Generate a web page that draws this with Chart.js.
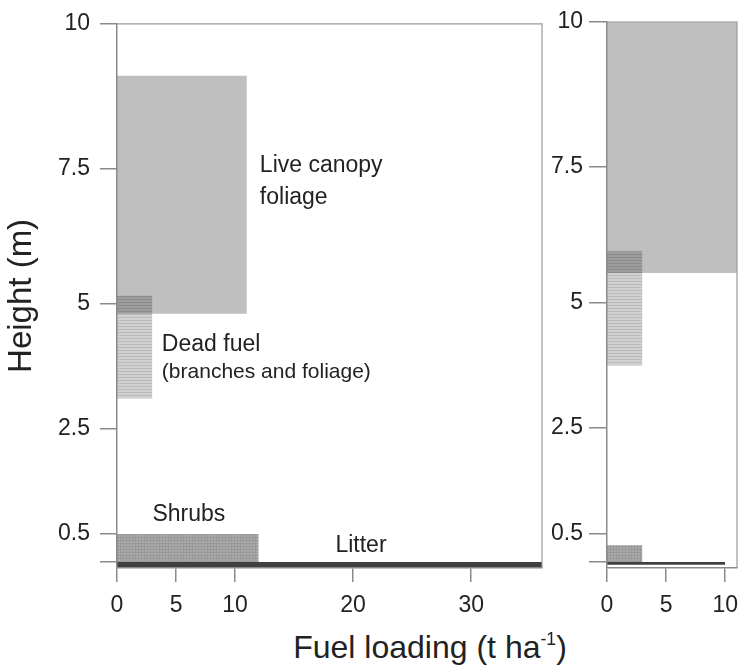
<!DOCTYPE html>
<html lang="en">
<head>
    <meta charset="UTF-8">
    <title>Fuel loading by height</title>
    <script src="https://cdn.jsdelivr.net/npm/chart.js"></script>
    <style>
        body {
            margin: 0;
            background: #fff;
            overflow: hidden;
            font-family: "Liberation Sans", Arial, sans-serif;
        }
        #wrap {
            position: relative;
            width: 744px;
            height: 665px;
            overflow: hidden;
        }
        #leftChart {
            position: absolute;
            left: 0;
            top: 0;
        }
        #rightChart {
            position: absolute;
            left: 544px;
            top: 0;
        }
        #xTitle {
            position: absolute;
            left: 130px;
            width: 600px;
            top: 631px;
            text-align: center;
            font-size: 32px;
            line-height: 32px;
            color: #222;
        }
        #xTitle sup {
            font-size: 0.55em;
            vertical-align: baseline;
            position: relative;
            top: -0.75em;
        }
    </style>
</head>
<body>
    <div id="wrap">
        <canvas id="leftChart" width="560" height="625"></canvas>
        <canvas id="rightChart" width="210" height="625"></canvas>
        <div id="xTitle">Fuel loading (t ha<sup>-1</sup>)</div>
    </div>

    <script>
        // fuel layers, same order in both panels
        const fuelTypes = ['Live canopy foliage', 'Dead fuel', 'Shrubs', 'Litter'];

        // left panel: load (t/ha), top and base height (m) of each layer
        const leftLoad = [11, 3, 12, 36];
        const leftTop = [9.1, 5.15, 0.5, 0];
        const leftBase = [4.8, 3.1, 0, -0.11];

        // right panel
        const rightLoad = [11, 3, 3, 10];
        const rightTop = [10, 5.95, 0.3, 0];
        const rightBase = [5.55, 3.75, 0, -0.05];

        // axis ticks
        const leftXTicks = [0, 5, 10, 20, 30];
        const rightXTicks = [0, 5, 10];
        const yTicks = [0, 0.5, 2.5, 5, 7.5, 10];
        const yTickLabels = ['', '0.5', '2.5', '5', '7.5', '10'];

        const FONT = '"Liberation Sans", Arial, sans-serif';
        const AXIS_GREY = '#8a8a8a';

        // the printed height axis is not evenly spaced, so the scale follows it
        const bendValues = [-0.11, 0, 0.5, 2.5, 5, 7.5, 10];
        const bendStops = [0, 6, 34, 140, 265, 401, 546];

        function bend(v) {
            let i = 0;
            while (i < bendValues.length - 2 && v > bendValues[i + 1]) i++;
            const t = (v - bendValues[i]) / (bendValues[i + 1] - bendValues[i]);
            const s = bendStops[i] + t * (bendStops[i + 1] - bendStops[i]);
            return s / bendStops[bendStops.length - 1];
        }

        function unbend(d) {
            const s = d * bendStops[bendStops.length - 1];
            let i = 0;
            while (i < bendStops.length - 2 && s > bendStops[i + 1]) i++;
            const t = (s - bendStops[i]) / (bendStops[i + 1] - bendStops[i]);
            return bendValues[i] + t * (bendValues[i + 1] - bendValues[i]);
        }

        class BentScale extends Chart.LinearScale {
            getPixelForValue(value) {
                if (value === null || value === undefined || isNaN(value)) return NaN;
                return this.getPixelForDecimal(bend(value));
            }
            getValueForPixel(pixel) {
                return unbend(this.getDecimalForPixel(pixel));
            }
        }
        BentScale.id = 'bent';
        BentScale.defaults = {};
        Chart.register(BentScale);

        // fill patterns
        function makePattern(w, h, paint) {
            const c = document.createElement('canvas');
            c.width = w;
            c.height = h;
            paint(c.getContext('2d'));
            return c.getContext('2d').createPattern(c, 'repeat');
        }

        const deadPattern = makePattern(1, 3, g => {
            g.fillStyle = 'rgba(0,0,0,0.18)';
            g.fillRect(0, 0, 1, 2);
            g.fillStyle = 'rgba(0,0,0,0.27)';
            g.fillRect(0, 2, 1, 1);
        });

        const shrubPattern = makePattern(3, 3, g => {
            g.fillStyle = '#a9a9a9';
            g.fillRect(0, 0, 3, 3);
            g.fillStyle = '#999999';
            g.fillRect(0, 0, 3, 1);
            g.fillRect(0, 0, 1, 3);
        });

        const fuelFills = ['rgba(0,0,0,0.25)', deadPattern, shrubPattern, '#404040'];

        // each layer is a top line filled down to its base line
        function layerSets(load, top, base) {
            const sets = [];
            fuelTypes.forEach((name, i) => {
                sets.push({
                    label: name,
                    data: [{ x: 0, y: top[i] }, { x: load[i], y: top[i] }],
                    fill: '+1',
                    backgroundColor: fuelFills[i],
                    borderColor: 'transparent',
                    borderWidth: 0,
                    pointRadius: 0,
                    showLine: false
                });
                sets.push({
                    label: name + ' base',
                    data: [{ x: 0, y: base[i] }, { x: load[i], y: base[i] }],
                    fill: false,
                    borderColor: 'transparent',
                    borderWidth: 0,
                    pointRadius: 0,
                    showLine: false
                });
            });
            return sets;
        }

        const framePlugin = {
            id: 'frame',
            afterDatasetsDraw(chart) {
                const { ctx, chartArea: a } = chart;
                ctx.save();
                ctx.strokeStyle = '#9a9a9a';
                ctx.lineWidth = 1.2;
                ctx.beginPath();
                ctx.moveTo(a.left, a.top);
                ctx.lineTo(a.right, a.top);
                ctx.lineTo(a.right, a.bottom);
                ctx.stroke();
                ctx.restore();
            }
        };

        // labels written next to the layers of the left panel
        const leftNotes = [
            { text: 'Live canopy', x: 12.1, y: 7.55, size: 23 },
            { text: 'foliage', x: 12.1, y: 6.95, size: 23 },
            { text: 'Dead fuel', x: 3.8, y: 4.18, size: 23 },
            { text: '(branches and foliage)', x: 3.8, y: 3.62, size: 21 },
            { text: 'Shrubs', x: 3.0, y: 0.86, size: 23 },
            { text: 'Litter', x: 18.5, y: 0.29, size: 23 }
        ];

        const notesPlugin = {
            id: 'notes',
            afterDatasetsDraw(chart) {
                const { ctx, scales } = chart;
                ctx.save();
                ctx.fillStyle = '#222';
                ctx.textAlign = 'left';
                ctx.textBaseline = 'middle';
                leftNotes.forEach(n => {
                    ctx.font = n.size + 'px ' + FONT;
                    ctx.fillText(n.text, scales.x.getPixelForValue(n.x), scales.y.getPixelForValue(n.y));
                });
                ctx.restore();
            }
        };

        function panelOptions(xMax, xTicks, yWidth, yTickLen, yPad, rightPad, withTitle) {
            return {
                responsive: false,
                animation: false,
                layout: {
                    autoPadding: false,
                    padding: { top: 22, right: rightPad, left: 0, bottom: 0 }
                },
                plugins: {
                    legend: { display: false },
                    tooltip: { enabled: false }
                },
                scales: {
                    x: {
                        type: 'linear',
                        min: 0,
                        max: xMax,
                        afterBuildTicks: s => { s.ticks = xTicks.map(v => ({ value: v })); },
                        afterFit: s => { s.height = 57; },
                        ticks: {
                            autoSkip: false,
                            maxRotation: 0,
                            padding: 10,
                            color: '#222',
                            font: { size: 23, family: FONT },
                            callback: v => String(v)
                        },
                        grid: {
                            drawOnChartArea: false,
                            tickLength: 14,
                            color: AXIS_GREY,
                            lineWidth: 1.5
                        },
                        border: { color: AXIS_GREY, width: 1.5, z: 1 }
                    },
                    y: {
                        type: 'bent',
                        min: -0.11,
                        max: 10,
                        afterBuildTicks: s => { s.ticks = yTicks.map(v => ({ value: v })); },
                        afterFit: s => { s.width = yWidth; },
                        ticks: {
                            autoSkip: false,
                            padding: yPad,
                            color: '#222',
                            font: { size: 23, family: FONT },
                            callback: (v, i) => yTickLabels[i]
                        },
                        grid: {
                            drawOnChartArea: false,
                            tickLength: yTickLen,
                            color: AXIS_GREY,
                            lineWidth: 1.5
                        },
                        border: { color: AXIS_GREY, width: 1.5, z: 1 },
                        title: {
                            display: withTitle,
                            text: 'Height (m)',
                            color: '#222',
                            font: { size: 33, family: FONT },
                            padding: { top: 2, bottom: 0 }
                        }
                    }
                }
            };
        }

        new Chart(document.getElementById('leftChart'), {
            type: 'line',
            data: { datasets: layerSets(leftLoad, leftTop, leftBase) },
            options: panelOptions(36, leftXTicks, 117, 17, 10, 18, true),
            plugins: [framePlugin, notesPlugin]
        });

        // wider canvas so the last x label does not squeeze the plot
        new Chart(document.getElementById('rightChart'), {
            type: 'line',
            data: { datasets: layerSets(rightLoad, rightTop, rightBase) },
            options: panelOptions(11, rightXTicks, 63, 18, 6, 17, false),
            plugins: [framePlugin]
        });
    </script>
</body>
</html>
